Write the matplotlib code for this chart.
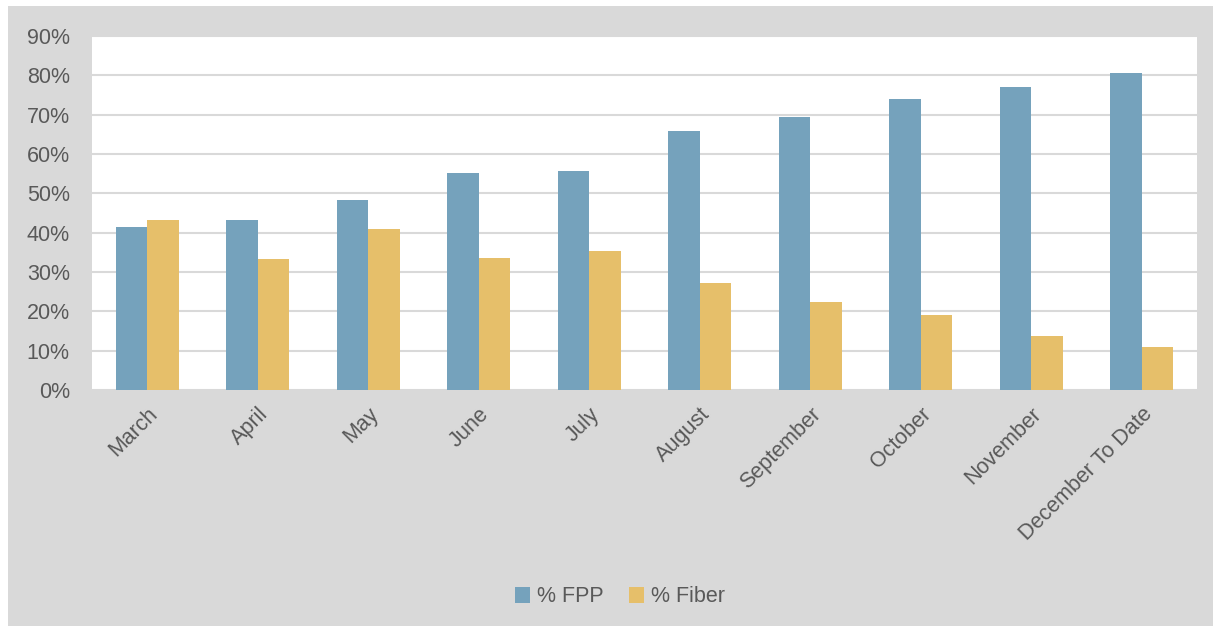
import matplotlib.pyplot as plt
import numpy as np
from matplotlib.patches import Rectangle
from matplotlib.ticker import FuncFormatter

months = ['March', 'April', 'May', 'June', 'July', 'August', 'September',
          'October', 'November', 'December To Date']
fpp = [41.4, 43.2, 48.3, 55.2, 55.7, 65.9, 69.4, 74.0, 77.0, 80.6]
fiber = [43.2, 33.3, 40.9, 33.6, 35.3, 27.2, 22.4, 19.1, 13.7, 10.9]

plt.rcParams['font.family'] = ['Liberation Sans', 'DejaVu Sans']

fig = plt.figure(figsize=(12.15, 6.29), dpi=100, facecolor='white')
W, H = 1215.0, 629.0
# gray chart area behind the axes
fig.patches.append(Rectangle((8 / W, 3 / H), 1205 / W, 620 / H,
                             transform=fig.transFigure, facecolor='#d9d9d9',
                             edgecolor='none', zorder=-10))

ax = fig.add_axes([92 / W, 1 - 390 / H, 1105 / W, 354 / H])
ax.set_facecolor('white')

x = np.arange(len(months))
w = 0.285
ax.bar(x - w / 2, fpp, w, color='#75a2bc', label='% FPP', zorder=3)
ax.bar(x + w / 2, fiber, w, color='#e6bf6a', label='% Fiber', zorder=3)

ax.set_xlim(-0.5, len(months) - 0.5)
ax.set_ylim(0, 90)
ax.set_yticks(range(0, 91, 10))
ax.yaxis.set_major_formatter(FuncFormatter(lambda v, p: '%d%%' % v))
ax.yaxis.grid(True, color='#d9d9d9', linewidth=1.5, zorder=0)
ax.set_axisbelow(True)
for s in ax.spines.values():
    s.set_visible(False)
ax.tick_params(axis='both', length=0, colors='#595959', labelsize=15.5)
ax.tick_params(axis='y', pad=16)
ax.set_xticks(x)
ax.set_xticklabels(months, rotation=45, ha='right', rotation_mode='anchor')
ax.tick_params(axis='x', pad=10)

leg = fig.legend(loc='center', bbox_to_anchor=(620 / W, 1 - 597 / H), ncol=2,
                 frameon=False, fontsize=15.5, handlelength=0.7, handleheight=0.7,
                 handletextpad=0.3, columnspacing=1.2)
for t in leg.get_texts():
    t.set_color('#595959')

fig.savefig('out.png', dpi=100, facecolor='white')
